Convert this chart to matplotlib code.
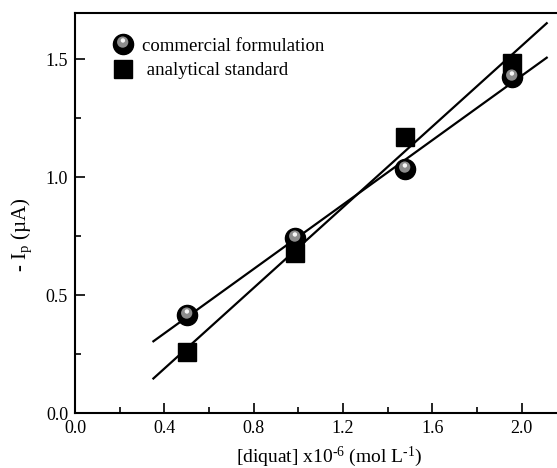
import matplotlib
matplotlib.use('Agg')
import numpy as np
import matplotlib.pyplot as plt
from matplotlib.path import Path
from matplotlib.ticker import MultipleLocator

plt.rcParams['font.family'] = ['Liberation Serif', 'DejaVu Serif']
plt.rcParams['mathtext.fontset'] = 'custom'
plt.rcParams['mathtext.rm'] = 'Liberation Serif'
plt.rcParams['mathtext.it'] = 'Liberation Serif:italic'

# concentration (x10^-6 mol/L) and peak current (uA)
conc = [0.50, 0.985, 1.478, 1.958]
commercial = [0.416, 0.742, 1.035, 1.425]
standard = [0.261, 0.68, 1.17, 1.483]
fit_range = [0.351, 2.112]

fig = plt.figure(figsize=(5.57, 4.68), dpi=100)
ax = fig.add_axes([75 / 557, 1 - 413.3 / 468, 1 - 75 / 557, 400.3 / 468])

xf = np.array(fit_range)
for y in (commercial, standard):
    k, b = np.polyfit(conc, y, 1)
    ax.plot(xf, k * xf + b, color='black', lw=1.6, zorder=2)

# shaded "ball" marker: black ball + off-centre grey/white highlights
ball_ms = 14.5
hl1 = Path.circle((-0.04, 0.12), 0.28)
hl2 = Path.circle((-0.03, 0.2), 0.11)
def scale_for(p):
    return ball_ms * np.abs(p.vertices).max() / 0.5

ax.plot(conc, standard, 's', color='black', ms=12.5, zorder=3)
ax.plot(conc, commercial, 'o', color='black', ms=ball_ms, zorder=4)
ax.plot(conc, commercial, ls='none', marker=hl1, color='#8c8c8c', mew=0,
        ms=scale_for(hl1), zorder=5)
ax.plot(conc, commercial, ls='none', marker=hl2, color='#f6f6f6', mew=0,
        ms=scale_for(hl2), zorder=6)

h_ball = ax.plot([], [], 'o', color='black', ms=ball_ms)[0]
h_hl1 = ax.plot([], [], ls='none', marker=hl1, color='#8c8c8c', mew=0, ms=scale_for(hl1))[0]
h_hl2 = ax.plot([], [], ls='none', marker=hl2, color='#f6f6f6', mew=0, ms=scale_for(hl2))[0]
h_sq = ax.plot([], [], 's', color='black', ms=13)[0]
ax.legend([(h_ball, h_hl1, h_hl2), h_sq],
          ['commercial formulation', ' analytical standard'],
          loc='upper left', bbox_to_anchor=(0.065, 0.962), frameon=False,
          fontsize=13.5, handlelength=0.8, handletextpad=0.6, labelspacing=0.4,
          borderpad=0)

ax.set_xlim(0, 2.158)
ax.set_ylim(0, 1.695)
ax.xaxis.set_major_locator(MultipleLocator(0.4))
ax.xaxis.set_minor_locator(MultipleLocator(0.2))
ax.yaxis.set_major_locator(MultipleLocator(0.5))
ax.yaxis.set_minor_locator(MultipleLocator(0.25))
ax.tick_params(which='both', direction='in', labelsize=13, width=1.2)
ax.tick_params(which='major', length=7)
ax.tick_params(which='minor', length=4)
ax.tick_params(axis='x', pad=5)
ax.tick_params(axis='y', pad=5)
ax.spines['right'].set_visible(False)
for s in ('left', 'bottom', 'top'):
    ax.spines[s].set_linewidth(1.5)

ax.set_xlabel('[diquat] x10$^{\u2010 6}$ (mol L$^{\u2010 1}$)', fontsize=14)
ax.xaxis.set_label_coords(0.527, -0.078)
ax.set_ylabel('- I$_\\mathrm{p}$ (\u00b5A)', fontsize=15)
ax.yaxis.set_label_coords(-0.085, 0.445)

fig.savefig('out.png', dpi=100)
